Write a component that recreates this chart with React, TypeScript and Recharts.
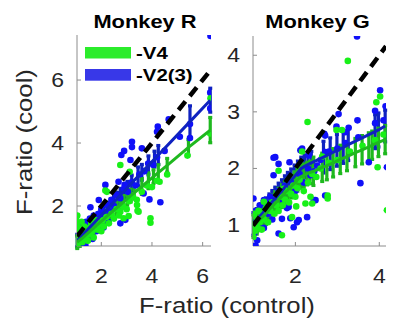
import { ScatterChart, Scatter, XAxis, YAxis, ErrorBar } from 'recharts'

const FONT = '"Liberation Sans", Arial, Helvetica, sans-serif'
const AXIS = '#8c8c8c'
const INK = '#262626'
const BLUE_DOT = '#1010f8'
const GREEN_DOT = '#18f018'
const BLUE_FIT = '#0f22c0'
const GREEN_FIT = '#1fb81f'

// Monkey R - single sites
const rBlueX = [6.31, 4.66, 4.23, 4.2, 3.21, 3.21, 3.6, 2.9, 2.79, 3.15, 2.16, 2.68, 1.9, 1.57, 3.9, 4.33, 3.67, 2.92, 5.5, 2.29, 2.09, 2.75, 1.37, 2.95,
  1.02, 1.05, 1.08, 1.1, 1.12, 1.15, 1.18, 1.2, 1.22, 1.25, 1.28, 1.3, 1.35, 1.4, 1.45, 1.5, 1.55, 1.6, 1.65, 1.7, 1.75, 1.8, 1.9, 1.95,
  2.0, 2.1, 2.2, 2.3, 2.4, 2.5, 2.6, 2.75, 2.9, 3.05, 3.2, 3.35, 3.5, 3.7, 3.85, 4.05, 4.2, 4.5, 5.1, 5.5, 6.3, 6.3]
const rBlueY = [7.4, 4.75, 4.52, 4.36, 4.04, 3.87, 3.83, 3.75, 3.62, 3.46, 2.67, 2.77, 2.19, 1.96, 2.21, 2.12, 2.4, 2.67, 4.16, 1.5, 1.32, 1.45, 0.76, 1.56,
  0.78, 0.95, 1.1, 0.85, 1.25, 0.9, 1.05, 1.35, 0.82, 1.15, 1.45, 1.0, 1.2, 1.5, 1.3, 1.12, 1.6, 1.35, 0.95, 1.7, 1.45, 1.2, 1.75, 1.55,
  1.9, 1.7, 2.05, 1.85, 2.2, 2.0, 2.35, 2.25, 2.55, 2.45, 2.75, 2.65, 3.0, 3.1, 3.35, 3.3, 3.55, 3.75, 4.2, 4.6, 5.1, 5.6]
const rGreenX = [2.75, 3.12, 2.16, 3.41, 3.43, 3.94, 3.94, 2.88, 4.3, 3.08, 6.31, 2.75, 3.47, 2.22,
  1.0, 1.0, 1.05, 1.02, 1.05, 1.08, 1.1, 1.12, 1.15, 1.2, 1.22, 1.25, 1.3, 1.33, 1.38, 1.42, 1.47, 1.5, 1.55, 1.6, 1.65, 1.7, 1.75, 1.8,
  1.85, 1.9, 2.0, 2.05, 2.1, 2.2, 2.3, 2.4, 2.5, 2.6, 2.7, 2.85, 3.0, 3.1, 3.25, 3.4, 3.6, 3.8, 4.0, 4.2, 4.6, 5.4, 6.3]
const rGreenY = [3.3, 3.09, 2.49, 2.03, 1.85, 1.61, 1.47, 1.61, 2.77, 1.68, 5.42, 1.82, 1.82, 2.45,
  0.9, 1.6, 1.7, 1.2, 1.45, 0.8, 1.05, 1.3, 0.95, 1.15, 1.5, 0.85, 1.1, 1.35, 1.0, 1.2, 0.9, 1.3, 1.1, 1.45, 1.2, 1.0, 1.35, 1.55,
  1.25, 1.4, 1.2, 1.55, 1.35, 1.65, 1.45, 1.75, 1.6, 1.9, 1.7, 2.0, 1.9, 2.15, 2.3, 2.2, 2.45, 2.65, 2.6, 2.8, 3.0, 3.6, 4.3]

// Monkey R - fits with error bars
const rBlueFitX = [1.05, 1.15, 1.26, 1.37, 1.48, 1.6, 1.72, 1.85, 1.98, 2.11, 2.24, 2.37, 2.5, 2.63, 2.76, 2.9, 3.03, 3.2, 3.45, 3.6, 3.86, 4.1, 4.25, 5.5, 6.3]
const rBlueFitY = [0.9, 0.98, 1.08, 1.17, 1.27, 1.37, 1.47, 1.58, 1.69, 1.8, 1.91, 2.02, 2.13, 2.24, 2.36, 2.47, 2.58, 2.73, 2.94, 3.07, 3.29, 3.49, 3.62, 4.68, 5.36]
const rBlueFitE = [0.2, 0.2, 0.2, 0.2, 0.2, 0.2, 0.2, 0.2, 0.2, 0.2, 0.2, 0.2, 0.2, 0.2, 0.2, 0.2, 0.2, 0.25, 0.3, 0.25, 0.3, 0.25, 0.3, 0.5, 0.38]
const rGreenFitX = [1.05, 1.15, 1.26, 1.36, 1.47, 1.58, 1.7, 1.82, 1.95, 2.08, 2.2, 2.33, 2.46, 2.6, 2.74, 2.88, 3.02, 3.16, 3.3, 3.6, 3.86, 4.06, 4.25, 4.6, 5.44, 6.3]
const rGreenFitY = [0.85, 0.92, 0.99, 1.06, 1.14, 1.22, 1.3, 1.39, 1.48, 1.57, 1.66, 1.75, 1.84, 1.93, 2.03, 2.13, 2.23, 2.33, 2.42, 2.62, 2.8, 2.93, 3.06, 3.29, 3.86, 4.41]
const rGreenFitE = [0.2, 0.2, 0.2, 0.2, 0.2, 0.2, 0.2, 0.2, 0.2, 0.2, 0.2, 0.2, 0.2, 0.2, 0.2, 0.2, 0.2, 0.2, 0.2, 0.25, 0.25, 0.22, 0.25, 0.22, 0.25, 0.4]

// Monkey G - single sites
const gBlueX = [3.47, 4.02, 3.9, 3.03, 3.48, 2.98, 3.27, 3.19, 2.69, 2.16, 2.32, 3.75, 4.18, 3.55, 2.71, 2.48, 2.28, 2.04, 1.68, 1.05, 1.52, 1.6, 1.86,
  2.12, 2.71, 2.71, 1.48, 1.0, 1.25, 2.44, 1.84, 1.48, 2.52, 2.36, 2.08, 1.96, 1.6, 1.09, 1.88, 1.29,
  1.0, 1.02, 1.05, 1.1, 1.15, 1.2, 1.25, 1.3, 1.35, 1.4, 1.45, 1.5, 1.6, 1.7, 1.75, 1.8, 1.9, 2.0, 2.1, 2.2, 2.3, 2.45, 2.6, 2.8, 3.0, 3.2, 3.5, 3.9, 4.1, 4.15]
const gBlueY = [4.33, 3.38, 3.02, 2.96, 2.85, 2.74, 2.72, 2.64, 2.61, 2.35, 2.23, 2.11, 2.02, 1.74, 1.52, 1.44, 1.14, 1.05, 1.11, 0.64, 2.2, 2.08, 2.11,
  2.32, 2.29, 2.58, 2.19, 1.47, 1.44, 1.44, 1.32, 1.88, 2.05, 1.88, 1.09, 0.96, 0.85, 0.73, 1.12, 1.31,
  1.05, 0.85, 1.25, 1.0, 1.35, 1.1, 0.95, 1.4, 1.2, 1.5, 1.1, 1.45, 1.6, 1.45, 1.7, 1.3, 1.75, 1.6, 1.9, 1.75, 2.0, 1.95, 2.15, 2.3, 2.35, 2.45, 2.55, 2.8, 2.85, 3.1]
const gGreenX = [3.25, 4.02, 3.93, 2.29, 2.98, 3.11, 2.16, 3.96, 2.64, 4.18, 2.77, 2.77, 1.6, 1.92, 1.68, 1.6, 2.02, 1.0, 1.72, 1.25, 2.36, 2.4, 2.24, 1.0,
  1.0, 1.02, 1.05, 1.08, 1.1, 1.12, 1.15, 1.2, 1.22, 1.25, 1.3, 1.35, 1.4, 1.45, 1.5, 1.55, 1.6, 1.65, 1.7, 1.75, 1.8, 1.85, 1.9, 1.95,
  2.0, 2.05, 2.1, 2.2, 2.3, 2.4, 2.5, 2.6, 2.8, 3.0, 3.3, 3.6, 3.9, 4.1]
const gGreenY = [3.9, 3.27, 3.17, 2.82, 2.68, 2.68, 2.3, 2.02, 2.21, 1.26, 1.52, 1.47, 1.96, 1.14, 0.82, 1.52, 1.33, 0.79, 1.64, 1.41, 1.5, 1.38, 1.38, 0.88,
  1.0, 1.2, 0.9, 1.1, 0.95, 1.25, 1.05, 0.92, 1.2, 1.1, 1.3, 1.05, 1.25, 1.4, 1.2, 1.35, 1.25, 1.5, 1.35, 1.45, 1.6, 1.4, 1.55, 1.7,
  1.5, 1.65, 1.8, 1.6, 1.75, 1.9, 1.85, 2.0, 2.1, 2.15, 2.3, 2.4, 2.5, 2.6]

// Monkey G - fits with error bars
const gBlueFitX = [1.0, 1.08, 1.15, 1.22, 1.3, 1.38, 1.45, 1.52, 1.6, 1.68, 1.75, 1.82, 1.9, 1.98, 2.06, 2.14, 2.22, 2.3, 2.38, 2.67, 2.83, 2.99, 3.14, 3.26, 3.9, 3.98, 4.14]
const gBlueFitY = [1.02, 1.09, 1.15, 1.21, 1.28, 1.35, 1.41, 1.47, 1.54, 1.6, 1.67, 1.73, 1.79, 1.86, 1.93, 2.0, 2.04, 2.07, 2.1, 2.2, 2.26, 2.32, 2.37, 2.42, 2.65, 2.68, 2.75]
const gBlueFitE = [0.2, 0.2, 0.2, 0.2, 0.2, 0.2, 0.2, 0.2, 0.2, 0.2, 0.2, 0.2, 0.2, 0.2, 0.2, 0.2, 0.2, 0.2, 0.2, 0.28, 0.28, 0.28, 0.28, 0.28, 0.3, 0.3, 0.28]
const gGreenFitX = [1.0, 1.08, 1.15, 1.22, 1.3, 1.38, 1.45, 1.52, 1.6, 1.68, 1.75, 1.82, 1.9, 1.98, 2.05, 2.12, 2.2, 2.28, 2.35, 2.43, 2.64, 2.75, 2.9, 3.07, 3.23, 3.43, 3.59, 3.75, 3.83, 3.98, 4.14]
const gGreenFitY = [0.98, 1.04, 1.1, 1.15, 1.21, 1.28, 1.33, 1.39, 1.45, 1.51, 1.57, 1.62, 1.68, 1.74, 1.8, 1.85, 1.88, 1.91, 1.93, 1.95, 2.02, 2.05, 2.1, 2.16, 2.21, 2.28, 2.33, 2.38, 2.41, 2.46, 2.51]
const gGreenFitE = [0.2, 0.2, 0.2, 0.2, 0.2, 0.2, 0.2, 0.2, 0.2, 0.2, 0.2, 0.2, 0.2, 0.2, 0.2, 0.2, 0.2, 0.2, 0.2, 0.25, 0.25, 0.25, 0.25, 0.25, 0.25, 0.25, 0.25, 0.25, 0.25, 0.25, 0.25]

// unity lines
const rDiag = [1.04, 6.33]
const gDiag = [0.99, 4.16]

type Pt = { x: number; y: number; e?: number }
const pts = (xs: number[], ys: number[]): Pt[] => xs.map((x, i) => ({ x, y: ys[i] }))
const fitPts = (xs: number[], ys: number[], es: number[]): Pt[] => xs.map((x, i) => ({ x, y: ys[i], e: es[i] }))
const diagPts = (d: number[]): Pt[] => d.map((v) => ({ x: v, y: v }))

const dot = (color: string) => (p: any) => <circle cx={p.cx} cy={p.cy} r={3.3} fill={color} />
const noDot = () => <g />

const XTick = (p: any) => (
  <text transform={`translate(${p.x},${p.y}) scale(1.15,1)`} textAnchor="middle" fontSize={20} fill={INK} fontFamily={FONT}>
    {p.payload.value}
  </text>
)
const YTick = (p: any) => (
  <text transform={`translate(${p.x},${p.y + 7}) scale(1.15,1)`} textAnchor="end" fontSize={20} fill={INK} fontFamily={FONT}>
    {p.payload.value}
  </text>
)

type PanelProps = {
  left: number
  width: number
  top: number
  right: number
  yWidth: number
  xDomain: number[]
  yDomain: number[]
  xTicks: number[]
  yTicks: number[]
  blue: Pt[]
  green: Pt[]
  blueFit: Pt[]
  greenFit: Pt[]
  diag: Pt[]
}

function Panel(props: PanelProps) {
  const { left, width, top, right, yWidth, xDomain, yDomain, xTicks, yTicks } = props
  return (
    <div style={{ position: 'absolute', left, top: 0 }}>
      <ScatterChart width={width} height={320} margin={{ top, right, bottom: 0, left: 0 }}>
        <XAxis type="number" dataKey="x" domain={xDomain} ticks={xTicks} allowDataOverflow height={74}
          stroke={AXIS} tickSize={-4} tickMargin={41} tick={XTick} />
        <YAxis type="number" dataKey="y" domain={yDomain} ticks={yTicks} allowDataOverflow width={yWidth}
          stroke={AXIS} tickSize={-4} tickMargin={17} tick={YTick} />
        <XAxis xAxisId="top" orientation="top" type="number" domain={xDomain} ticks={xTicks} allowDataOverflow
          height={0} stroke={AXIS} tickSize={-4} tick={false} />
        <YAxis yAxisId="right" orientation="right" type="number" domain={yDomain} ticks={yTicks} allowDataOverflow
          width={0} stroke={AXIS} tickSize={-4} tick={false} />
        <Scatter data={props.blue} fill={BLUE_DOT} shape={dot(BLUE_DOT)} isAnimationActive={false} />
        <Scatter data={props.green} fill={GREEN_DOT} shape={dot(GREEN_DOT)} isAnimationActive={false} />
        <Scatter data={props.blueFit} fill={BLUE_FIT} line={{ stroke: BLUE_FIT, strokeWidth: 3 }} shape={noDot} isAnimationActive={false}>
          <ErrorBar dataKey="e" direction="y" width={2} stroke={BLUE_FIT} strokeWidth={3.2} isAnimationActive={false} />
        </Scatter>
        <Scatter data={props.greenFit} fill={GREEN_FIT} line={{ stroke: GREEN_FIT, strokeWidth: 3 }} shape={noDot} isAnimationActive={false}>
          <ErrorBar dataKey="e" direction="y" width={2} stroke={GREEN_FIT} strokeWidth={3.2} isAnimationActive={false} />
        </Scatter>
        <Scatter data={props.diag} fill="#000" line={{ stroke: '#000', strokeWidth: 4.5, strokeDasharray: '11 7' }} shape={noDot} isAnimationActive={false} />
      </ScatterChart>
    </div>
  )
}

export default function App() {
  return (
    <div style={{ position: 'absolute', left: 0, top: 0, width: 393, height: 320, background: '#fff', fontFamily: FONT }}>
      <Panel left={0} width={220} top={35} right={9} yWidth={77}
        xDomain={[1.04, 6.33]} yDomain={[0.73, 7.43]} xTicks={[2, 4, 6]} yTicks={[2, 4, 6]}
        blue={pts(rBlueX, rBlueY)} green={pts(rGreenX, rGreenY)}
        blueFit={fitPts(rBlueFitX, rBlueFitY, rBlueFitE)} greenFit={fitPts(rGreenFitX, rGreenFitY, rGreenFitE)}
        diag={diagPts(rDiag)} />
      <Panel left={200} width={193} top={36} right={7} yWidth={53}
        xDomain={[0.99, 4.16]} yDomain={[0.63, 4.34]} xTicks={[2, 4]} yTicks={[1, 2, 3, 4]}
        blue={pts(gBlueX, gBlueY)} green={pts(gGreenX, gGreenY)}
        blueFit={fitPts(gBlueFitX, gBlueFitY, gBlueFitE)} greenFit={fitPts(gGreenFitX, gGreenFitY, gGreenFitE)}
        diag={diagPts(gDiag)} />
      <svg width={393} height={320} style={{ position: 'absolute', left: 0, top: 0, pointerEvents: 'none' }} fontFamily={FONT}>
        <text transform="translate(145,27.5) scale(1.15,1)" textAnchor="middle" fontWeight="bold" fontSize={19} fill="#000">Monkey R</text>
        <text transform="translate(317.5,27.5) scale(1.15,1)" textAnchor="middle" fontWeight="bold" fontSize={19} fill="#000">Monkey G</text>
        <rect x={85} y={47} width={46} height={11.5} fill="#2bec2b" />
        <rect x={85} y={69} width={46} height={11.7} fill="#3838e8" />
        <text transform="translate(136,58.5) scale(1.2,1)" fontWeight="bold" fontSize={17} fill="#000">-V4</text>
        <text transform="translate(136,80.5) scale(1.2,1)" fontWeight="bold" fontSize={17} fill="#000">-V2(3)</text>
        <text transform="translate(32,142) rotate(-90) scale(1.17,1)" textAnchor="middle" fontSize={22} fill={INK}>F-ratio (cool)</text>
        <text transform="translate(227,313) scale(1.17,1)" textAnchor="middle" fontSize={22} fill={INK}>F-ratio (control)</text>
      </svg>
    </div>
  )
}
